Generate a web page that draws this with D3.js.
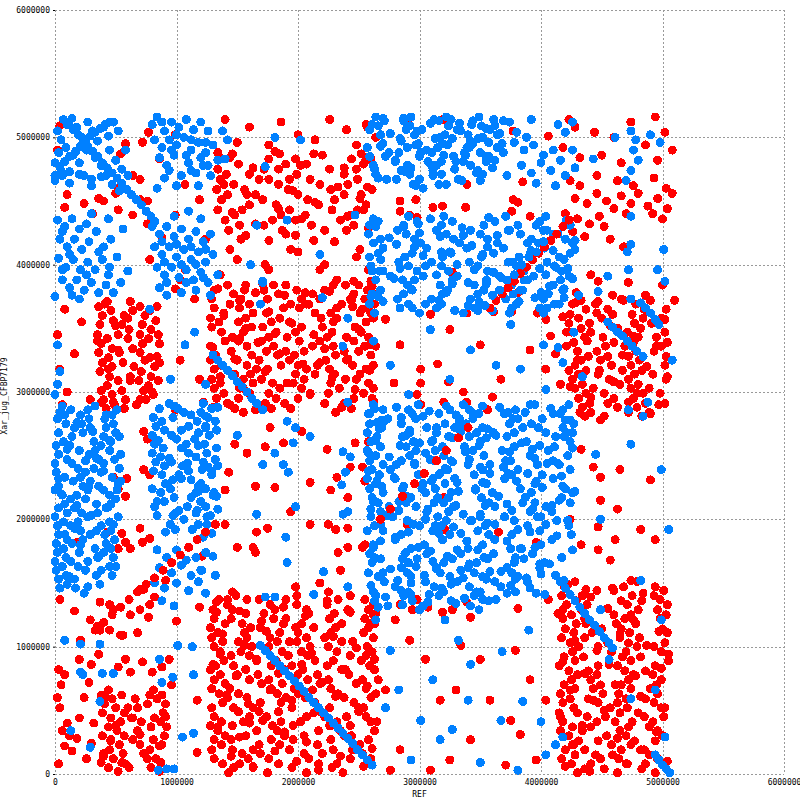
<!DOCTYPE html>
<html>
<head>
<meta charset="utf-8">
<script src="https://cdn.jsdelivr.net/npm/d3@7"></script>
<style>
  body { margin: 0; background: #fff; }
  text { font-family: "DejaVu Sans Mono", monospace; font-size: 8px; fill: #000; }
</style>
</head>
<body>
<svg id="chart" width="800" height="800"></svg>
<script>
// all match positions below are in units of 10 kb
const UNIT = 10000;
const xTicks = [0, 1000000, 2000000, 3000000, 4000000, 5000000, 6000000];
const yTicks = [0, 1000000, 2000000, 3000000, 4000000, 5000000, 6000000];
const xLabel = "REF";
const yLabel = "Xar_jug_CFBP7179";

// "y: x x x" = matches sharing one query position, "x,y" = single matches

// ---- forward (red) matches ----
const redBottomLeft = `
66: 44 81
62: 38 55 88
59: 47 66 84
55: 41 76 91
52: 50 68
48: 39 57 89
44: 46 63 82
41: 54 71 87
37: 44 79 92
34: 51 68
30: 39 57 90
27: 46 64 81
23: 53 70 88
19: 45 78
16: 40 56 73
12: 48 83
9: 38 55 87
5: 44 61 79
2: 52 86
42,60 60,52 78,62 91,45 50,38 70,31 86,22 40,14 58,8 76,12 64,44 46,26
3,82 8,78 5,70 2,60 4,52 10,40 6,34 12,30 8,22 14,18 3,8 18,28 20,44 24,60 28,72 26,12 32,40 30,24 20,90 30,86 36,94
52,84 58,90 62,80 72,88 80,80 88,84 94,90 96,70 117,58 117,17 4,137 16,128 29,121 37,113 45,133 62,125 78,133 21,105 54,109 70,145 91,152 100,120`;

const redLeftMid = `
371: 43 62
367: 36 70 84
364: 46 64
360: 39 57 74
356: 48 83
353: 37 55 72
349: 61 79
345: 35 52 85
342: 43 60 77
338: 38 72 86
334: 47 64
331: 36 53 70
327: 44 78
323: 39 56 86
320: 47 65 82
316: 37 71
312: 45 62 79
309: 52 69 85
305: 43 77
301: 38 55 73
298: 47 81
294: 40 58 75
290: 49 67
287: 42
41,369 60,358 78,364 35,340 52,333 70,345 84,328 44,318 62,309 80,300 38,292 57,287 74,325 50,352
2,345 4,318 16,330 10,300 22,355 8,365 78,404 99,381 107,396 115,373 103,325 119,310 99,286`;

const redLeftScatter = `
73,269 76,263 73,239 78,235 48,233 59,232 52,224 58,218 70,193 43,190 18,182 55,189 58,182 52,177 62,177 72,182 78,185
73,145 82,139 37,135 48,129 62,125 70,129 77,123 35,116 45,113 56,109 68,111 119,131 133,127 122,292 130,288 6,290 29,294 48,292 70,294
31,440 40,450 50,456 70,467 54,487 70,451 76,450 64,439 52,443 8,445 99,439 76,432 88,421 72,496 77,504 4,509 45,512
2,490 6,470 10,455 24,448 36,452 52,460 64,470 58,495 99,502 107,463 119,451 86,483 124,420 103,388`;

const redMidTop = `
140,514 160,508 186,512 200,502 226,514 240,506 256,510 150,496 176,494 214,498 248,494 134,488 264,500
487: 146 185 213 252
483: 138 176 198 244 260
479: 151 190 207 254
475: 134 172 184 226 248
471: 141 160 199 238
467: 136 168 193 210 249
463: 147 184 218 241
459: 133 156 192 227 261
455: 142 165 200 238 252
451: 137 171 208 230
447: 160 182 217 256
443: 134 154 193 228 249
439: 148 186 206 243
435: 140 179 198 235
431: 152 172 211 246
427: 143 187 240
423: 157 198
419: 176 213
144,484 163,476 181,489 202,478 220,486 238,476 255,481 139,463 158,455 176,467 196,458 214,449 233,461 251,452
146,441 165,432 184,444 203,436 222,427 241,438 259,430 153,420 190,424 230,418
150,404 176,396 200,410 222,400 248,406 136,392 190,384 232,388 258,396 206,378 144,412 173,400 194,412 218,396 239,384 251,412 157,384 165,378 246,387 260,383 245,367`;

const redMidCluster = `
384: 142 180 229 250
380: 131 156 172 199 222 257
377: 147 184 212 246 262
373: 129 153 175 203 218 243 255
369: 144 160 194 209 236 263
366: 131 152 188 201 232 258
362: 139 163 174 214 227 251
358: 128 157 185 219 241 262
355: 135 151 178 193 229 256
351: 129 162 171 203 220 247
347: 137 155 182 198 228 252
343: 146 176 191 224 240 258
340: 140 151 170 201 218 246
336: 128 158 180 212 229 255 264
332: 145 174 190 205 238 250
329: 132 162 183 197 231 260
325: 128 150 168 193 223 240
321: 137 158 186 200 216 245 262
318: 131 166 175 207 226 256
314: 148 161 198 214 230 251
310: 129 155 170 205 239 248
307: 136 163 179 196 227 258
303: 131 152 185 203 234 262
299: 139 160 176 210 225 254
295: 133 151 182 200 246 261
291: 142 173 189 222 238
287: 148 178 194 244
284: 155 231
134,381 152,372 171,385 189,376 207,369 226,379 244,372 261,383 139,360 157,350 176,363 195,354 213,345 232,358 250,349
130,335 148,326 167,339 185,330 204,322 222,334 241,326 259,317 136,312 155,303 173,316 191,307 210,298 228,311 247,302
262,293 144,290 165,286 236,288 181,346 218,323 152,342`;

const redMidScatter = `
177,272 203,269 148,259 173,257 188,260 158,252 143,237 165,226 181,225 140,223 210,229 227,223 241,217 232,233 224,255 247,260 258,261
243,241 253,241 255,230 194,206 210,196 225,196 231,192 241,193 140,196 166,190 175,193 129,189 150,178 163,178 165,174 241,178 253,178
233,174 235,160 198,147 218,150 225,143 146,143 121,171 142,137 158,137`;

const redMidBottom = `
140: 149 199 243
137: 135 168 190 233 255
133: 142 177 199 224 262
129: 130 146 181 207 241 258
126: 157 172 209 230 264
122: 131 145 180 190 226 255
118: 140 154 188 203 236 263
115: 128 161 169 213 231 258
111: 134 156 185 200 227 254
107: 129 158 177 207 222 262
104: 138 151 183 199 236 245
100: 131 162 176 210 225 257
96: 136 153 187 203 232 261
93: 145 160 192 208 243 256
89: 139 166 182 214 229 252
85: 132 147 178 195 224 259
82: 128 157 189 204 236 263
78: 136 150 167 200 216 242
74: 131 160 176 208 225 253 266
71: 140 170 187 218 248
67: 129 144 178 197 227 256
63: 135 151 183 200 233 264
60: 142 158 190 206 238 260
56: 138 169 186 214 246
52: 129 147 163 195 226 254
49: 151 168 184 218 250
45: 131 160 174 207 222 256
41: 137 155 186 202 232 260
38: 128 146 179 196 227 243
34: 134 166 183 217 235 263
30: 140 157 189 205 238
27: 131 145 178 196 227 258
23: 137 168 185 216 251
19: 129 146 163 193 229 245
16: 154 169 205 220 253
12: 131 159 176 209 243 260
8: 138 152 184 217 232
5: 147 163 195 228
1: 143 175 207 237
133,135 152,128 170,120 188,131 206,124 224,136 243,127 260,118 138,110 156,101 174,112 193,104 211,95 229,108 248,99 263,90
130,86 149,77 166,90 184,79 203,86 220,72 239,82 257,69 141,62 159,55 177,66 195,58 213,48 231,61 250,52 265,41
134,37 152,29 171,42 189,33 207,25 226,38 244,30 261,20 145,14 163,6 181,18 199,10 217,3 235,14 254,6 136,94 198,115 240,45 160,40 212,66`;

const redCenterScatter = `
257,508 290,512 319,514 377,505 406,501 423,514 339,463 385,465 257,461 284,450 297,451 311,445 319,446 338,445 377,451 381,449
376,442 391,438 284,442 292,439 298,437 254,443 258,429 260,387 327,394 381,378 447,387 455,391 459,376 447,371 309,361 339,362
348,365 361,363 376,363 397,362 418,359 253,365 260,362 272,357 284,337 301,318 325,349 350,337 367,310 391,333 404,357 260,337 315,322
279,307 301,307 324,308 336,300 360,296 298,298 320,292 339,292 301,290 356,286 258,261 253,241 255,230 320,217 290,196 321,192
365,190 396,182 255,180 443,241 449,233 433,180 447,176 461,184 463,208 447,194 298,137 294,129 307,131 284,133 327,129 342,123
381,130 406,137 418,129 262,125 339,135 319,127
280,121 292,105 305,90 317,58 330,66 342,27 358,58 371,7 383,31 391,74 404,58 284,19 276,3 309,3 375,42 301,42 334,101 350,90
379,97 272,66 325,11 396,11`;

const redRightTop = `
424,466 432,462 446,470 463,466 476,462 493,468 503,460 428,452 438,448 446,456 454,450 460,444 466,454 474,448 480,456 488,446
496,452 504,444 508,456 420,440 430,436 440,432 448,438 426,426 436,422 457,420 468,414 500,436 492,440 470,440 452,430
428,508 444,504 460,500 474,512 494,516 502,504 486,494 432,484 418,492 450,486 466,480 508,490 496,482`;

const redRightMid = `
441,392 472,386 500,384 429,378 486,376 510,372
372: 433 468 490
369: 426 445 478
365: 437 455 486 503
361: 424 459 475
358: 431 450 484 499
354: 423 440 477 491
350: 433 463 482
347: 425 441 471 502
343: 436 451 480 495
339: 427 460 476 504
336: 421 453 469 499
332: 430 446 478 493
328: 439 455 472 503
325: 433 449 481
321: 428 458 474 502
317: 423 437 467 483
314: 431 447 477 492
310: 426 456 472 503
306: 434 465 480
303: 428 443 474 489
299: 437 452 484 498
295: 431 460 476
291: 440 455 486 502
288: 434 463 479
284: 441 472 489
281: 436 452 483
428,370 446,362 466,373 485,365 502,357 421,347 438,340 457,352 476,344 495,336 430,325 448,317 467,329 487,320 504,312
424,304 441,296 460,308 479,299 497,290 432,284 452,281 472,292 490,283
408,344 412,330 404,318 416,306`;

const redRightBottom = `
151: 428 479
147: 419 468 494
144: 446 460 501
140: 417 434 475 493
136: 429 466 483
133: 421 438 471 504
129: 433 449 480 496
125: 425 460 474 503
122: 418 436 469 498
118: 429 462 478
114: 420 450 466 500
111: 427 442 473 504
107: 417 436 465 481
103: 424 455 472 502
100: 431 447 479 493
96: 426 458 470 499
92: 419 435 467 482
89: 428 456 474 505
85: 415 447 463 494
81: 423 439 469 486
78: 430 446 476 492
74: 425 441 472 499
70: 419 449 466 495
67: 428 443 474 490
63: 416 451 464 496
59: 424 439 470 486
56: 418 447 463 493
52: 427 457 471 499
48: 415 430 465 480
45: 438 453 485 501
41: 418 446 461 492
37: 426 441 472 489
34: 416 434 465 496
30: 423 454 470 500
26: 431 447 477 494
23: 427 458 474
19: 420 436 466 482
15: 428 459 489
12: 417 449 464 496
8: 425 441 471 486
4: 436 452 483
1: 430 463
422,149 441,139 459,146 484,142 414,126 437,118 455,130 476,121 497,112 428,105 446,97 465,110 487,101 505,94
418,88 436,79 456,86 478,77 499,83 424,66 443,58 461,70 482,61 502,52 416,45 434,38 452,50 475,41 495,33
426,23 445,15 463,28 485,19 504,10 420,6 440,2 470,8 494,1
433,255 449,215 465,239 482,192 494,184 457,168 437,145 474,152 498,137 424,200 490,231 449,278`;

// forward runs that show as lines through the blue blocks
const redDiagLeft = `33,113 40,119 47,125 54,131 61,137 68,143 75,149 82,154 89,160 96,166 103,172 110,178 117,184 124,190 132,196`;
const redDiagCenter = `268,200 276,208 286,218 296,228 304,236 314,246 322,254 332,264 340,272`;
const redDiagUpper = `358,366 363,372 368,377 373,382 378,387 383,393 388,398 393,404 398,409 403,414 408,419 413,424 418,430 423,435`;

// ---- reverse (blue) matches ----
const blueTopLeft = `
2,505 5,498 10,510 14,515 18,508 22,500 27,512 31,505 35,497 40,508 44,501 48,512 52,505 3,488 9,492 15,486 20,480 26,490
33,484 38,478 45,490 50,482 55,475 6,470 12,464 24,470 30,462 42,470 47,463 53,458 0,480 0,466 58,490 60,470
4,477 8,481 12,485 17,489 21,493 25,497 29,501 33,504 37,507 41,510 45,512`;

const blueLeftUpper = `
2,435 8,430 14,436 20,428 4,420 10,414 16,420 22,412 28,418 34,426 40,414 46,420 3,405 9,398 15,404 21,396 27,402 33,396
39,404 45,398 51,406 6,388 12,382 18,388 24,380 30,386 36,378 42,384 48,378 54,386 0,375 20,373 60,395 30,440 44,436 56,428
0,470 5,474 12,473 20,471 30,467 38,469 6,426 26,432 12,408 36,410 6,396 26,392 44,392 14,376`;

const blueColumn1 = `
80,510 84,516 90,505 96,512 102,508 108,514 114,506 120,512 126,505 82,498 88,492 94,498 100,494 106,500 112,490 118,496
124,488 130,494 86,484 92,478 98,486 110,480 116,472 122,478 128,470 134,482 104,470 90,468 84,460 100,462 118,462 138,505 142,498
88,512 100,502 112,498 124,496 96,490 108,486 120,484 94,474 112,474 126,478
80,430 86,424 92,430 98,422 104,428 110,420 116,426 122,418 128,424 82,414 88,408 94,414 100,406 106,412 112,404 118,410
124,402 130,408 84,398 90,392 96,398 102,390 108,396 114,388 120,394 126,386 86,382 92,376 104,378 116,380 128,376 134,392
98,438 110,442 120,436 88,418 100,416 112,414 124,412 90,402 104,400 116,400 92,386 108,386 122,390`;

const blueTopMid = `
516: 264 293 322 349
513: 271 287 316 344 369
509: 266 292 324 351 362
506: 259 289 302 331 358
502: 268 296 321 340 364
499: 284 313 327 348
495: 270 299 319 344 368
492: 257 290 315 341 364
488: 283 310 337 350
485: 259 272 300 328 357
481: 280 307 336 355
478: 262 290 314 342
474: 285 311 348
471: 264 292 318 352
467: 273 300 332
463: 295 322
460: 303
261,510 276,503 268,493 280,482 263,475 287,515 298,505 285,497 301,488 293,476 309,511 317,500 306,490 318,481 311,470
326,514 334,505 323,494 338,486 329,475 343,510 352,500 339,492 355,485 347,472 361,514 366,503 357,496 369,488 360,476
281,467 297,462 316,463 335,466
270,515 290,509 312,514 333,511 355,507 275,488 297,494 320,486 342,497 362,482 266,468 288,473 310,478 330,481 350,466
378,496 386,490 394,494 402,486 410,490 384,478 392,472 400,480 408,474 416,482 420,470 428,476 396,464 412,462 426,490 372,470
374,512 380,504 392,514 388,500 414,510 420,504 426,512 443,483 461,500`;

const blueMidUpper = `
438: 291 320 371 404
434: 266 298 327 362 399
431: 259 287 318 353 396 424
427: 282 314 342 374 405
424: 258 289 322 350 383 414
420: 268 296 328 356 392 420
417: 262 301 333 364 398 426
413: 270 306 339 369 403
409: 266 294 326 361 391 424
406: 259 288 319 351 382 415
402: 283 310 341 373 405
399: 260 291 318 348 380 411
395: 267 298 324 356 386 417
391: 276 303 331 366 394 423
388: 264 296 327 355 389 416
384: 290 317 345 376 410
380: 268 294 323 353 383 418
377: 261 287 319 348 377 406
373: 282 310 342 371 402
369: 259 291 318 350 380 411
366: 284 314 345 376 405
362: 263 300 336 374 402
262,436 275,421 268,404 279,389 260,375 287,430 296,414 284,397 293,381 305,369 309,436 317,422 303,407 314,392 322,378
329,364 335,429 343,415 331,400 340,386 349,371 357,437 364,423 352,408 361,394 368,379 376,366 381,431 389,417 377,402
386,388 395,374 402,427 410,411 399,397 407,383 415,369 421,435 428,419 419,404 426,389 431,376 270,395 300,425 325,410
355,385 383,395 412,398
264,430 281,416 299,432 318,410 336,423 356,414 373,427 392,411 410,424 428,412
261,395 286,388 305,399 327,385 345,396 367,390 385,380 404,392 422,397 270,371 294,366 316,372 340,368 360,364 382,371 399,366 419,381`;

const blueRightScatter = `
474,505 478,498 476,490 480,482 474,474 470,466 490,502 498,496 471,410 474,416 501,412 474,438
472,396 496,396 502,387 455,391 447,379 419,374 427,347 414,335 418,323 434,312 508,325 474,373 488,292 472,286 484,281 400,378 402,337
474,59 418,29 502,29 456,90 499,121 449,129 494,66 445,251 474,259 499,239 505,192 424,278 482,152 449,200`;

const blueMidScatter = `
171,386 220,374 169,369 241,358 237,336 262,340 241,292 134,288 266,375 115,347
124,281 118,268 150,266 191,277 198,272 210,265 181,252 196,260 171,243 188,243 192,237 132,247 126,241 121,239 118,222 130,219
134,208 166,204 198,210 125,202 118,196 129,189 122,186 190,186 124,174 130,171 191,166 121,160 132,156 118,151 221,159 239,237
236,227 237,253 243,249 237,204 241,206 241,147 213,141 173,139 181,139 124,142 264,263 269,278 265,276
202,498 191,435 161,400 218,408 247,439 140,483 181,500 173,477 166,431 171,387
309,349 342,333 375,353 325,310 383,318 404,302 276,321 363,321 291,298 107,337 95,310 124,306 78,365 2,337 2,306 0,298 4,316`;

const blueCenter = `
290: 262 299 336 391 423
286: 270 291 325 341 379 418
283: 258 294 316 349 370 410
279: 274 297 333 344 381 401
275: 259 285 321 338 374 392 427
272: 269 306 329 352 385 418
268: 257 292 314 347 361 404 426
265: 265 286 324 341 372 419
261: 260 295 310 350 388 424
257: 268 289 319 337 378 411
254: 257 297 313 344 368 406
250: 264 292 320 353 391 422
246: 259 285 312 326 375 410
243: 270 296 340 358 397 415
239: 261 276 323 352 381 424
235: 267 299 316 345 376 401
232: 257 280 311 329 370 410
228: 264 303 321 355 395
224: 259 286 313 346 383 420
221: 270 305 326 360 392 426
217: 261 293 315 351 387 417
213: 266 289 320 357 395 424
210: 275 297 328 362 404
206: 268 306 324 391 409
202: 260 278 315 350 370 400
199: 290 322 342 378 413
195: 263 300 318 354 389 423
191: 270 311 348 399
188: 285 325 376
184: 280 319 362 409
180: 262 304 352 400
177: 293 340 384
173: 259 288 306 334 361 393
169: 268 298 327 356 386
166: 261 291 320 347 378 403
162: 285 314 340 372 399
158: 258 290 317 345 376
155: 266 293 325 352 381
151: 271 305 331 362 389
147: 280 312 341 367
143: 262 291 320 350 379
140: 287 316 345
136: 263 294 326 357
132: 274 303 342
129: 300 349
259,283 271,277 264,262 275,249 258,238 269,226 262,214 273,203 257,191 268,183 263,170 276,161 260,148 272,139 266,131
281,288 292,270 284,258 296,244 279,233 290,218 283,207 295,196 280,186 289,174 297,163 282,152 293,141 286,133
303,281 314,272 300,260 309,247 317,236 302,224 312,213 305,200 316,189 299,178 311,167 304,156 318,146 307,135
322,289 333,276 327,264 338,253 321,240 331,229 324,217 336,204 328,194 339,183 323,171 334,160 326,149 337,138
344,283 356,271 349,258 341,247 358,236 346,223 354,211 343,199 357,188 348,176 341,165 355,153 347,143
366,288 377,279 363,266 374,253 369,241 380,230 365,218 376,207 362,196 372,183 379,170 367,159 375,148 363,137
387,284 398,272 384,260 395,248 389,236 401,225 385,213 397,202 391,190 383,177 399,165 388,154 396,142
408,287 420,278 412,265 426,256 405,244 417,234 428,222 409,211 422,199 413,187 426,176 407,165 419,152 403,141
263,287 285,280 308,285 330,282 352,289 373,284 395,290 416,283 267,271 289,266 311,262 334,269 355,264 378,268 399,258 421,268
258,252 281,243 305,252 327,245 350,241 371,246 393,255 414,244 265,230 287,226 310,230 332,222 352,229 373,236 396,230 418,226
260,208 283,214 307,208 330,211 350,204 372,212 393,208 415,215 268,196 291,190 313,195 334,189 356,197 381,192 404,196 425,188
262,178 286,169 309,175 331,176 353,170 375,177 395,178 417,170 270,158 293,150 314,161 336,154 358,159 379,153 400,157
264,140 285,144 308,141 330,134 352,137 372,142 391,146`;

const blueLeftLower = `
289: 6 33
286: 13 27 51
282: 8 21 47
279: 2 28 41
275: 9 22 48
272: 16 29 42
268: 3 23 50
265: 14 40 53
261: 7 32 46
258: 1 12 38
254: 20 33 45
251: 3 28 54
247: 10 36 49
244: 0 14 40
240: 19 32 53
237: 1 25 38
233: 8 21 47
230: 15 29 54
226: 3 23 36
223: 0 27 40 51
219: 6 18 45
216: 13 25 50
212: 8 34 46
209: 3 16 42
205: 10 22 35
202: 0 27 52
198: 7 19 45
195: 2 13 38
191: 21 34 46
188: 3 29 41
184: 10 23 49
181: 1 14 42
177: 7 33 46
174: 2 20 40
170: 9 35 48
167: 0 13 27
163: 6 19 45
160: 1 25 38
156: 9 34 47
153: 3 16
149: 10 37
146: 4 17
142: 24
4,284 18,276 31,269 45,262 10,255 25,246 40,238 52,228 5,220 18,211 30,203 48,196 8,188 21,180 36,171 50,163
12,155 27,147 3,232 42,282 34,248 16,193 44,210 28,226`;

const blueColumn2 = `
291: 94 122
287: 86 101 129
284: 106 120
280: 81 97 126
277: 88 117 132
273: 83 110 124
270: 90 104 133
266: 80 96 127
263: 100 115
259: 82 108 123
256: 89 104 133
252: 80 110 125
249: 87 116
245: 83 96 122
242: 90 105 134
238: 81 110
235: 88 102 129
231: 97 112
228: 91 120
224: 80 95 124
221: 87 116 131
217: 98 112
214: 90 120
210: 82 109 124
207: 102 117
203: 84 97 128
200: 106
196: 95
192: 99 113
98,289 112,282 124,272 85,262 118,258 94,248 129,238 104,232 84,214 118,226 99,205 125,196 91,190 109,244 133,218 116,205
84,176 92,170 100,176 108,168 86,162 96,158 104,164 112,156 82,150 90,146 100,150 110,144 88,136 98,132 116,170 120,160`;

const blueBottomScatter = `
8,105 21,102 37,102 101,101 113,100 86,90 21,80 23,78 39,79 48,79 88,72 97,76 114,78 37,57 13,34 29,21 105,29 114,32 85,3 92,4 98,4
276,97 283,66 301,42 311,74 317,27 340,58 350,9 367,42 385,57 400,41 404,15 293,11 332,105 368,96 390,113 321,121 342,86 264,121
272,52 327,35 381,3 412,23`;

// long reverse runs (the diagonal streaks)
const blueDiagTopLeft = `7,514 11,510 15,506 19,502 23,497 27,493 31,489 35,485 39,480 43,476 47,472 51,468 55,464 59,459 63,455 67,451 71,447 75,442 79,438 82,434`;
const blueDiagMid = `130,329 134,325 138,321 142,317 146,313 150,308 154,304 158,300 162,295 166,291 171,286`;
const blueDiagBottom = `169,101 173,97 177,93 181,89 185,85 189,81 193,77 197,73 201,69 205,65 209,60 213,56 217,52 221,48 225,44 229,40 233,36 237,32 241,28 245,24 249,19 253,15 257,11 261,7`;
const blueDiagUpper = `348,364 354,368 360,376 366,380 372,388 378,392 384,400 390,406 396,410 402,418`;
const blueDiagLowerRight = `412,156 416,151 420,146 424,141 428,136 432,131 436,126 440,121 444,117 448,112 452,107 456,103 459,99`;
const blueDiagRight1 = `455,355 459,351 463,347 467,344 471,340 475,336 479,332 484,328`;
const blueDiagRight2 = `482,370 486,366 490,362 494,357 497,353`;
const blueDiagCorner = `494,15 497,11 500,7 503,4 506,1`;

function parsePoints(text) {
    let pts = [];
    text.trim().split("\n").forEach(line => {
        line = line.trim();
        if (!line) return;
        if (line.includes(":")) {
            let [y, xs] = line.split(":");
            xs.trim().split(/\s+/).forEach(x => pts.push([+x * UNIT, +y * UNIT]));
        } else {
            line.split(/\s+/).forEach(p => {
                let [x, y] = p.split(",");
                pts.push([+x * UNIT, +y * UNIT]);
            });
        }
    });
    return pts;
}

const redPoints = [redBottomLeft, redLeftMid, redLeftScatter, redMidTop, redMidCluster, redMidScatter,
    redMidBottom, redCenterScatter, redRightTop, redRightMid, redRightBottom].flatMap(parsePoints);
const redLines = [redDiagLeft, redDiagCenter, redDiagUpper].flatMap(parsePoints);
const bluePoints = [blueTopLeft, blueLeftUpper, blueColumn1, blueTopMid, blueMidUpper, blueRightScatter,
    blueMidScatter, blueCenter, blueLeftLower, blueColumn2, blueBottomScatter].flatMap(parsePoints);
const blueLines = [blueDiagTopLeft, blueDiagMid, blueDiagBottom, blueDiagUpper, blueDiagLowerRight,
    blueDiagRight1, blueDiagRight2, blueDiagCorner].flatMap(parsePoints);

const svg = d3.select("#chart");
const margin = {left: 55, right: 16, top: 10, bottom: 26};
const width = 800, height = 800;

const x = d3.scaleLinear().domain([0, 6000000]).range([margin.left, width - margin.right]);
const y = d3.scaleLinear().domain([0, 6000000]).range([height - margin.bottom, margin.top]);

// dashed grid
const grid = svg.append("g").attr("stroke", "#999").attr("stroke-width", 1)
    .attr("stroke-dasharray", "2,2").attr("shape-rendering", "crispEdges");
grid.selectAll(".vx").data(xTicks).enter().append("line")
    .attr("x1", d => Math.round(x(d)) + 0.5).attr("x2", d => Math.round(x(d)) + 0.5)
    .attr("y1", y(6000000)).attr("y2", y(0));
grid.selectAll(".hy").data(yTicks).enter().append("line")
    .attr("y1", d => Math.round(y(d)) + 0.5).attr("y2", d => Math.round(y(d)) + 0.5)
    .attr("x1", x(0)).attr("x2", x(6000000));

// axes
const yAxis = svg.append("g").attr("transform", `translate(${x(0)},0)`)
    .call(d3.axisLeft(y).tickValues(yTicks).tickFormat(d3.format("d")).tickSize(2).tickPadding(3));
yAxis.select(".domain").remove();
const xAxis = svg.append("g").attr("transform", `translate(0,${y(0)})`)
    .call(d3.axisBottom(x).tickValues(xTicks).tickFormat(d3.format("d")).tickSize(0).tickPadding(5));
xAxis.select(".domain").remove();
svg.selectAll(".tick text").attr("font-family", "DejaVu Sans Mono, monospace").attr("font-size", 8);

svg.append("text").attr("x", (x(0) + x(6000000)) / 2).attr("y", 797)
    .attr("text-anchor", "middle").text(xLabel);
svg.append("text").attr("transform", `translate(7,396) rotate(-90)`)
    .attr("text-anchor", "middle").text(yLabel);

// matches: forward hits, reverse hits, then the runs
const dots = svg.append("g").attr("shape-rendering", "crispEdges");
const drawDots = (data, color) => dots.append("g").selectAll("circle").data(data).enter().append("circle")
    .attr("cx", d => x(d[0])).attr("cy", d => y(d[1])).attr("r", 4.5).attr("fill", color);

drawDots(redPoints, "#ff0000");
drawDots(bluePoints, "#0080ff");
drawDots(redLines, "#ff0000");
drawDots(blueLines, "#0080ff");
</script>
</body>
</html>
